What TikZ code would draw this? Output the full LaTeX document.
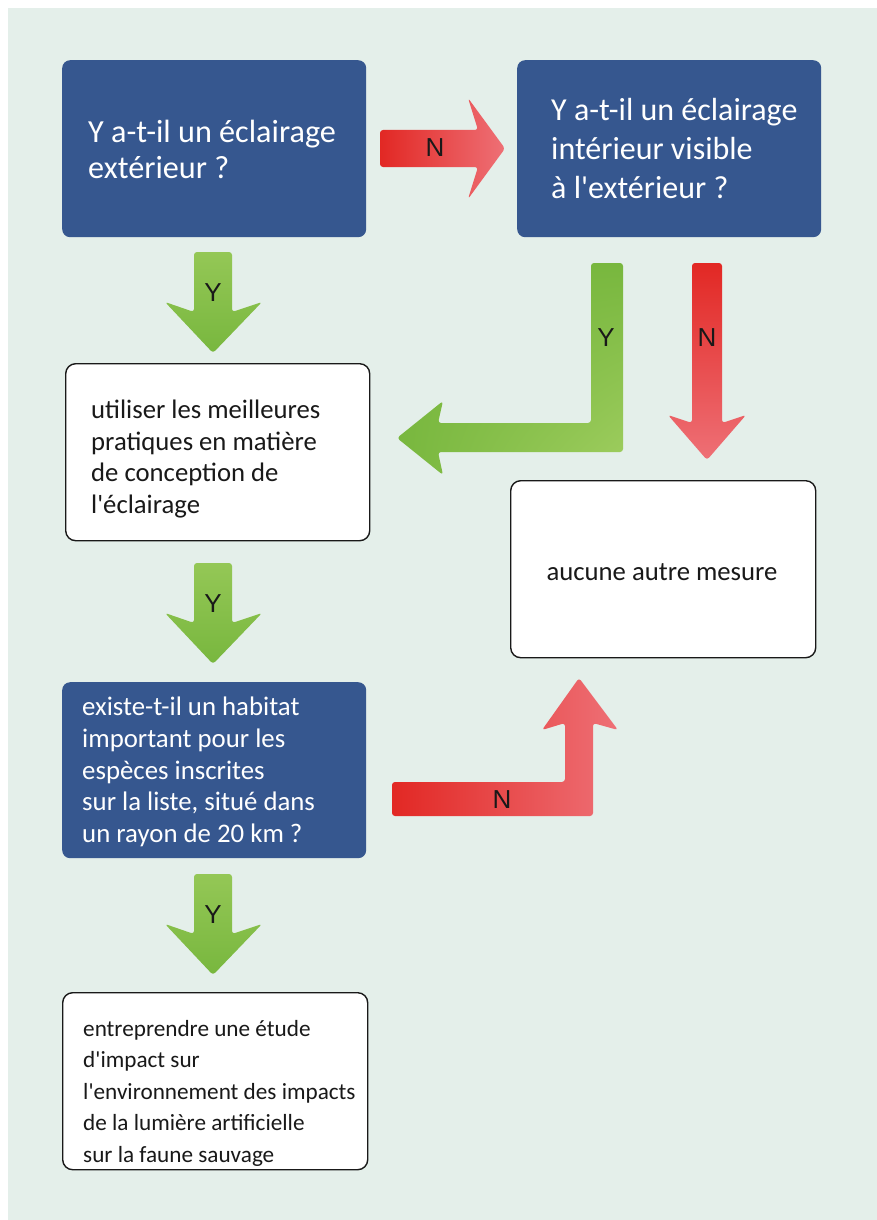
\documentclass[tikz,border=0pt]{standalone}
\usepackage{fontspec}
\setmainfont{Carlito}
\newfontfamily\calfont{Carlito}
\newfontfamily\labelfont{Liberation Sans}
\usetikzlibrary{shadings}
\definecolor{bgc}{RGB}{228,239,234}
\definecolor{boxblue}{RGB}{54,87,143}
\definecolor{gdark}{RGB}{120,183,62}
\definecolor{glight}{RGB}{160,206,96}
\definecolor{rdark}{RGB}{226,40,36}
\definecolor{rlight}{RGB}{238,112,118}
\definecolor{ink}{RGB}{25,25,25}
\tikzset{
  bluebox/.style={fill=boxblue, draw=none, rounded corners=8pt, inner sep=0pt,
    minimum width=304pt, minimum height=177pt, anchor=north west},
  whitebox/.style={fill=white, draw=ink, line width=1.4pt, rounded corners=10pt, inner sep=0pt,
    minimum width=304pt, minimum height=177pt, anchor=north west},
  bigtext/.style={text=white, align=left, inner sep=0pt, anchor=west,
    font=\calfont\fontsize{32.2}{36}\selectfont},
  bluetext/.style={text=white, align=left, inner sep=0pt, anchor=west,
    font=\calfont\fontsize{26.8}{31.7}\selectfont},
  blacktext/.style={text=ink, align=left, inner sep=0pt, anchor=west,
    font=\calfont\fontsize{26.7}{31.8}\selectfont},
  smalltext/.style={text=ink, align=left, inner sep=0pt, anchor=west,
    font=\calfont\fontsize{23.2}{31.5}\selectfont},
  lbl/.style={text=ink, inner sep=0pt, font=\labelfont\fontsize{26}{28}\selectfont},
  fat/.style={rounded corners=3pt},
}
\begin{document}
\begin{tikzpicture}[x=1pt,y=-1pt]
\useasboundingbox (0,0) rectangle (877,1220);
\fill[white] (0,0) rectangle (877,1220);
\fill[bgc] (8,8) rectangle (877,1220);

% boxes
\node[bluebox] (b1) at (62,60) {};
\node[bluebox] (b2) at (517,60) {};
\node[whitebox] (b3) at (65,363) {};
\node[whitebox, minimum width=305pt] (b4) at (510,480) {};
\node[bluebox, minimum height=176pt] (b5) at (62,682) {};
\node[whitebox, minimum width=305pt] (b6) at (62,992) {};

% texts
\node[bigtext] (t1) at (88,149) {Y a-t-il un éclairage\\extérieur ?};
\node[bigtext, font=\calfont\fontsize{32}{39}\selectfont] (t2) at (551,149) {Y a-t-il un éclairage\\intérieur visible\\à l'extérieur ?};
\node[blacktext] (t3) at (91,459) {utiliser les meilleures\\pratiques en matière\\de conception de\\l'éclairage};
\node[blacktext, anchor=center] (t4) at (662,572) {aucune autre mesure};
\node[bluetext] (t5) at (82,772) {existe-t-il un habitat\\important pour les\\espèces inscrites\\sur la liste, situé dans\\un rayon de 20 km ?};
\node[smalltext] (t6) at (83,1093) {entreprendre une étude\\d'impact sur\\l'environnement des impacts\\de la lumière artificielle\\sur la faune sauvage};

% arrow b1 -> b2 (N)
\shade[fat, left color=rdark, right color=rlight]
  (380,130) -- (478,130) -- (468,98) -- (505,148.5) -- (468,199) -- (478,167) -- (380,167) -- cycle;
\node[lbl] (n1) at (435,148) {N};

% arrow b1 -> b3 (Y)
\shade[fat, top color=glight!70!gdark, bottom color=gdark]
  (194,252) -- (232,252) -- (232,312) -- (262,302) -- (213,353) -- (165,302) -- (194,312) -- cycle;
\node[lbl] (y1) at (213,293) {Y};

% arrow b2 -> b3 (Y, L-shaped)
\shade[fat, upper left=gdark, upper right=gdark, lower left=gdark, lower right=glight]
  (591,263) -- (623,263) -- (623,452) -- (438,452) -- (443,475) -- (397,438) -- (443,401) -- (438,423) -- (591,423) -- cycle;
\node[lbl] (y2) at (606,338) {Y};

% arrow b2 -> b4 (N)
\shade[fat, top color=rdark, bottom color=rlight]
  (692,263) -- (722,263) -- (722,423) -- (746,415) -- (707,460) -- (668,415) -- (692,423) -- cycle;
\node[lbl] (n2) at (707,338) {N};

% arrow b3 -> b5 (Y)
\shade[fat, top color=glight!70!gdark, bottom color=gdark]
  (194,563) -- (232,563) -- (232,623) -- (262,613) -- (213,664) -- (165,613) -- (194,623) -- cycle;
\node[lbl] (y3) at (213,604) {Y};

% arrow b5 -> b4 (N, L-shaped)
\shade[fat, left color=rdark, right color=rlight]
  (392,782) -- (565,782) -- (565,723) -- (542,730) -- (579,678) -- (618,730) -- (593,723) -- (593,816) -- (392,816) -- cycle;
\node[lbl] (n3) at (502,800) {N};

% arrow b5 -> b6 (Y)
\shade[fat, top color=glight!70!gdark, bottom color=gdark]
  (194,874) -- (232,874) -- (232,934) -- (262,924) -- (213,975) -- (165,924) -- (194,934) -- cycle;
\node[lbl] (y4) at (213,915) {Y};
\end{tikzpicture}
\end{document}
